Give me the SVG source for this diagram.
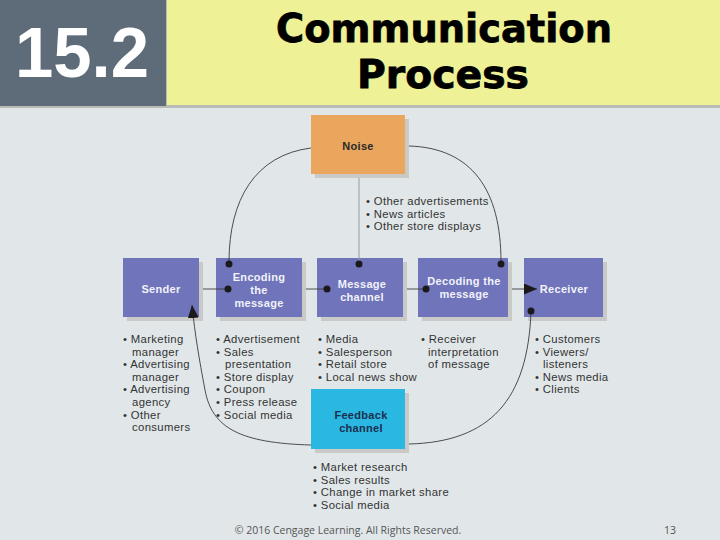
<svg xmlns="http://www.w3.org/2000/svg" width="720" height="540" viewBox="0 0 720 540">
<defs>
<style>
.bg{fill:#e1e7e9}
.box{fill:#6f74bb}
.sh{fill:#c9c9c7}
.nt{font-family:"Liberation Sans",Arial,sans-serif;font-size:11px;font-weight:bold;fill:#f2f2fa;text-anchor:middle;letter-spacing:0.3px}
.dk{fill:#2a2a2a}
.li{font-family:"Liberation Sans",Arial,sans-serif;font-size:11.3px;fill:#333;letter-spacing:0.35px}
.ln{fill:none;stroke:#3a3a3a;stroke-width:0.9}
.vl{fill:none;stroke:#9a9a9a;stroke-width:1}
.dot{fill:#1a1a1a}
</style>
<marker id="arr" viewBox="0 0 10 10" refX="10" refY="5" markerWidth="13" markerHeight="11" markerUnits="userSpaceOnUse" orient="auto" preserveAspectRatio="none"><path d="M0,0 L10,5 L0,10 z" fill="#1a1a1a"/></marker>
</defs>
<rect class="bg" x="0" y="0" width="720" height="540"/>
<g id="header">
<rect x="0" y="0" width="720" height="108" fill="#b9bcb6"/>
<rect x="0" y="0" width="166" height="106" fill="#5e6c79"/>
<rect x="167" y="0" width="553" height="105" fill="#eef196"/>
<text x="82" y="77" font-family="'Liberation Sans',Arial,sans-serif" font-weight="bold" font-size="71" fill="#fff" text-anchor="middle" textLength="134" lengthAdjust="spacingAndGlyphs">15.2</text>
<text x="444" y="42" font-family="'DejaVu Sans',sans-serif" font-weight="bold" font-size="39" fill="#000" stroke="#000" stroke-width="0.8" text-anchor="middle" textLength="336" lengthAdjust="spacingAndGlyphs">Communication</text>
<text x="443" y="88" font-family="'DejaVu Sans',sans-serif" font-weight="bold" font-size="39" fill="#000" stroke="#000" stroke-width="0.8" text-anchor="middle" textLength="172" lengthAdjust="spacingAndGlyphs">Process</text>
</g>
<g id="noise">
<rect class="sh" x="315" y="119" width="94" height="59"/>
<rect x="311" y="115" width="94" height="59" fill="#e9a65c"/>
<text class="nt dk" x="358" y="150">Noise</text>
</g>
<g id="sender">
<rect class="sh" x="127" y="262" width="76" height="59"/>
<rect class="box" x="123" y="258" width="76" height="59"/>
<text class="nt" x="161" y="293">Sender</text>
</g>
<g id="encoding">
<rect class="sh" x="220" y="262" width="86" height="59"/>
<rect class="box" x="216" y="258" width="86" height="59"/>
<text class="nt" x="259" y="281">Encoding</text>
<text class="nt" x="259" y="294">the</text>
<text class="nt" x="259" y="307">message</text>
</g>
<g id="channel">
<rect class="sh" x="321" y="262" width="86" height="59"/>
<rect class="box" x="317" y="258" width="86" height="59"/>
<text class="nt" x="362" y="288">Message</text>
<text class="nt" x="362" y="301">channel</text>
</g>
<g id="decoding">
<rect class="sh" x="422" y="262" width="90" height="59"/>
<rect class="box" x="418" y="258" width="90" height="59"/>
<text class="nt" x="464" y="285">Decoding the</text>
<text class="nt" x="464" y="298">message</text>
</g>
<g id="receiver">
<rect class="sh" x="528" y="262" width="79" height="59"/>
<rect class="box" x="524" y="258" width="79" height="59"/>
<text class="nt" x="564" y="293">Receiver</text>
</g>
<g id="feedback">
<rect class="sh" x="315" y="393" width="94" height="60"/>
<rect x="311" y="389" width="94" height="60" fill="#2ab7e1"/>
<text class="nt" x="361" y="419" style="fill:#1c2f4f">Feedback</text>
<text class="nt" x="361" y="432" style="fill:#1c2f4f">channel</text>
</g>
<g id="connectors">
<path class="vl" d="M359,178 L359,264"/>
<path class="ln" d="M311,148 C255,155 229,200 229,262"/>
<path class="ln" d="M409,146 C472,148 501,190 501,262"/>
<path class="ln" d="M203,289 L228,289"/>
<path class="ln" d="M306,289 L327,289"/>
<path class="ln" d="M407,289 L426,289"/>
<path class="ln" d="M512,289 L537,289" marker-end="url(#arr)"/>
<path class="ln" d="M531,311 C528,400 490,442 409,444"/>
<path class="ln" d="M311,445 C240,443 212,428 205,390 C199,358 195,335 192,305" marker-end="url(#arr)"/>
<circle class="dot" cx="229" cy="264" r="3.5"/>
<circle class="dot" cx="228" cy="289" r="3.5"/>
<circle class="dot" cx="327" cy="289" r="3.5"/>
<circle class="dot" cx="359" cy="264" r="3.5"/>
<circle class="dot" cx="426" cy="289" r="3.5"/>
<circle class="dot" cx="501" cy="264" r="3.5"/>
<circle class="dot" cx="531" cy="311" r="3.5"/>
</g>
<g id="lists" class="li">
<text x="366" y="205">• Other advertisements</text>
<text x="366" y="217.6">• News articles</text>
<text x="366" y="230.2">• Other store displays</text>

<text x="123" y="343">• Marketing</text>
<text x="132" y="355.6">manager</text>
<text x="123" y="368.2">• Advertising</text>
<text x="132" y="380.8">manager</text>
<text x="123" y="393.4">• Advertising</text>
<text x="132" y="406">agency</text>
<text x="123" y="418.6">• Other</text>
<text x="132" y="431.2">consumers</text>

<text x="216" y="343">• Advertisement</text>
<text x="216" y="355.6">• Sales</text>
<text x="225" y="368.2">presentation</text>
<text x="216" y="380.8">• Store display</text>
<text x="216" y="393.4">• Coupon</text>
<text x="216" y="406">• Press release</text>
<text x="216" y="418.6">• Social media</text>

<text x="318" y="343">• Media</text>
<text x="318" y="355.6">• Salesperson</text>
<text x="318" y="368.2">• Retail store</text>
<text x="318" y="380.8">• Local news show</text>

<text x="421" y="343">• Receiver</text>
<text x="428" y="355.6">interpretation</text>
<text x="428" y="368.2">of message</text>

<text x="535" y="343">• Customers</text>
<text x="535" y="355.6">• Viewers/</text>
<text x="543" y="368.2">listeners</text>
<text x="535" y="380.8">• News media</text>
<text x="535" y="393.4">• Clients</text>

<text x="313" y="471">• Market research</text>
<text x="313" y="483.6">• Sales results</text>
<text x="313" y="496.2">• Change in market share</text>
<text x="313" y="508.8">• Social media</text>
</g>
<g id="footer" font-family="'Open Sans','Liberation Sans',sans-serif" font-size="10.5" fill="#555">
<text x="348" y="534" text-anchor="middle">© 2016 Cengage Learning. All Rights Reserved.</text>
<text x="670" y="534" text-anchor="middle">13</text>
</g>
</svg>
